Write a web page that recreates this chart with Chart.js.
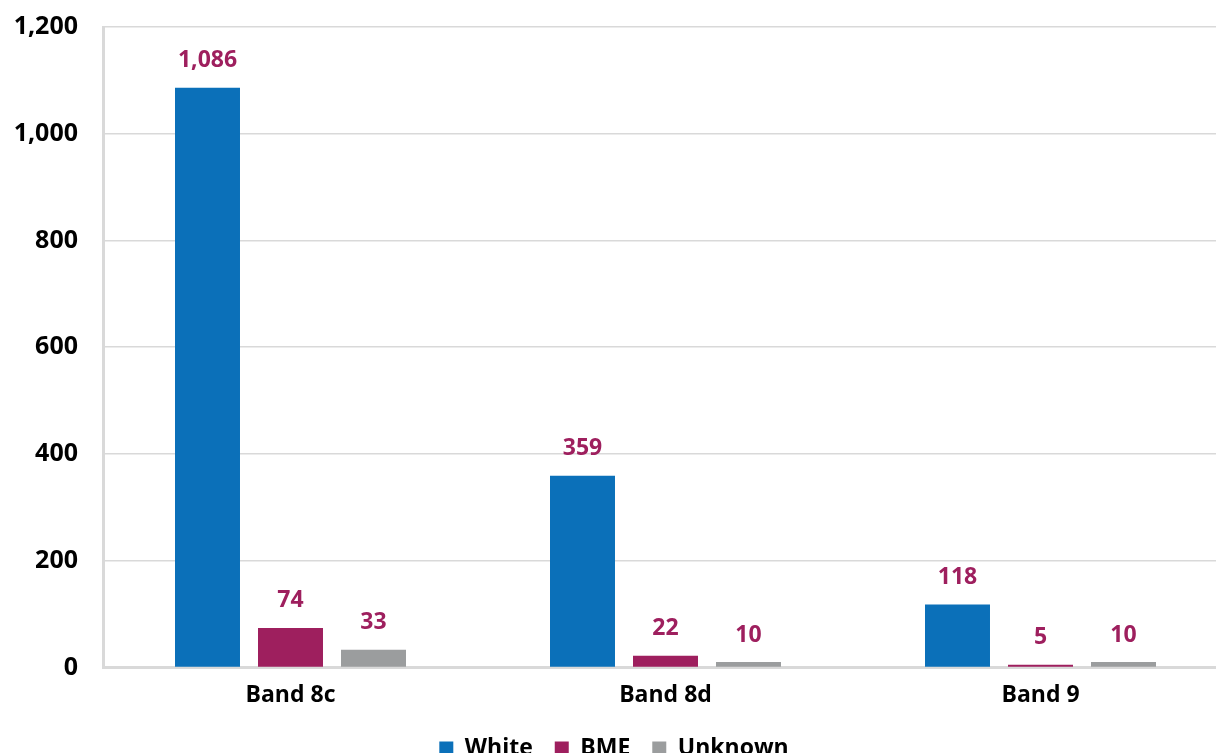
<!DOCTYPE html>
<html>
<head>
<meta charset="utf-8">
<script src="https://cdn.jsdelivr.net/npm/chart.js@4"></script>
<style>
  html, body { margin: 0; padding: 0; background: #fff; overflow: hidden; }
  #wrap { width: 1228px; height: 770px; position: relative; }
</style>
</head>
<body>
<div id="wrap"><canvas id="bandChart"></canvas></div>
<script>
const bands = ['Band 8c', 'Band 8d', 'Band 9'];
const white = [1086, 359, 118];
const bme = [74, 22, 5];
const unknown = [33, 10, 10];
const yTicks = [0, 200, 400, 600, 800, 1000, 1200];

const labelColour = '#9e1f5e';
const font = "'Open Sans', 'Noto Sans', sans-serif";

// value labels drawn above each bar
const barValues = {
  id: 'barValues',
  afterDatasetsDraw(chart) {
    const c = chart.ctx;
    c.save();
    c.font = 'bold 23px ' + font;
    c.fillStyle = labelColour;
    c.textAlign = 'center';
    c.textBaseline = 'middle';
    chart.data.datasets.forEach((ds, i) => {
      chart.getDatasetMeta(i).data.forEach((bar, j) => {
        c.fillText(ds.data[j].toLocaleString('en-US'), bar.x, bar.y - 27);
      });
    });
    c.restore();
  }
};

new Chart(document.getElementById('bandChart'), {
  type: 'bar',
  data: {
    labels: bands,
    datasets: [
      { label: 'White', data: white, backgroundColor: '#0b70b9' },
      { label: 'BME', data: bme, backgroundColor: '#9e1f5e' },
      { label: 'Unknown', data: unknown, backgroundColor: '#9b9d9e' }
    ]
  },
  options: {
    responsive: true,
    maintainAspectRatio: false,
    animation: false,
    categoryPercentage: 0.664,
    barPercentage: 0.783,
    layout: { padding: 0 },
    plugins: {
      legend: {
        position: 'bottom',
        labels: {
          boxWidth: 14,
          boxHeight: 14,
          padding: 22,
          color: '#000',
          font: { family: font, size: 23, weight: 'bold' }
        }
      },
      tooltip: { enabled: false }
    },
    scales: {
      x: {
        grid: { display: false },
        border: { color: '#d9d9d9', width: 3 },
        ticks: {
          color: '#000',
          padding: 6,
          font: { family: font, size: 23, weight: 'bold' }
        }
      },
      y: {
        min: 0,
        max: 1200,
        afterBuildTicks(axis) { axis.ticks = yTicks.map(v => ({ value: v })); },
        afterFit(axis) {
          axis.width = 103;
          axis.paddingTop = 27;
          axis.paddingBottom = 0;
        },
        grid: { color: '#d9d9d9', lineWidth: 1.5, drawTicks: false },
        border: { color: '#d9d9d9', width: 3 },
        ticks: {
          color: '#000',
          padding: 25,
          font: { family: font, size: 25, weight: 'bold' },
          callback: v => v.toLocaleString('en-US')
        }
      }
    }
  },
  plugins: [barValues]
});
</script>
</body>
</html>
